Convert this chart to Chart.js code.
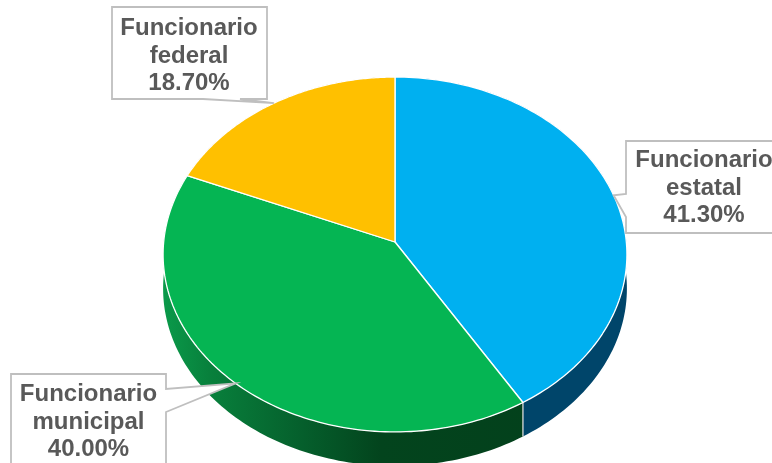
<!DOCTYPE html>
<html lang="es">
<head>
<meta charset="utf-8">
<title>Funcionarios</title>
<script src="https://cdn.jsdelivr.net/npm/chart.js@4"></script>
<style>
  html, body { margin: 0; padding: 0; background: #fff; overflow: hidden; }
  canvas { display: block; }
</style>
</head>
<body>
<canvas id="pie" width="772" height="463"></canvas>
<script>
const categories = ['Funcionario estatal', 'Funcionario municipal', 'Funcionario federal'];
const shares = [41.3, 40.0, 18.7];
const faceColors = ['#00b0f0', '#05b553', '#ffc000'];

// Tilted disc: horizontal and vertical stretch of the unit circle, perspective
// strength and the height of the side wall in pixels
const STRETCH_X = 1.402;
const STRETCH_Y = 1.07;
const PERSPECTIVE = 0.0704;
const WALL_DEPTH = 34;
const ARC_STEPS = 120;

// Where each callout box sits, one per category
const calloutBoxes = [
  { left: 626, top: 141, right: 790, bottom: 233, textX: 704, baseline: 167, side: 'left', gap: [194, 217] },
  { left: 11, top: 374, right: 166, bottom: 480, textX: 88.5, baseline: 401, side: 'right', gap: [389, 412] },
  { left: 112, top: 7, right: 267, bottom: 99, textX: 189, baseline: 35, side: 'bottom', gap: [203, 240] }
];

function project(arc, angle, drop = 0) {
  const ux = Math.cos(angle);
  const uy = Math.sin(angle);
  const w = 1 - PERSPECTIVE * uy;
  return {
    x: arc.x + arc.outerRadius * STRETCH_X * ux / w,
    y: arc.y + arc.outerRadius * STRETCH_Y * uy / w + drop
  };
}

function traceRim(ctx, arc, from, to, drop) {
  for (let i = 0; i <= ARC_STEPS; i++) {
    const p = project(arc, from + (to - from) * i / ARC_STEPS, drop);
    ctx.lineTo(p.x, p.y);
  }
}

function wallFill(ctx, index) {
  const g = ctx.createLinearGradient(163, 0, 627, 0);
  if (index === 1) {
    g.addColorStop(0, '#0a9a4a');
    g.addColorStop(0.1, '#08803c');
    g.addColorStop(0.3, '#055f2c');
    g.addColorStop(0.47, '#03441d');
    g.addColorStop(1, '#033f1b');
    return g;
  }
  return index === 0 ? '#00456a' : '#7f6000';
}

function drawWall(ctx, arc, index) {
  ctx.beginPath();
  traceRim(ctx, arc, arc.startAngle, arc.endAngle, 0);
  traceRim(ctx, arc, arc.endAngle, arc.startAngle, WALL_DEPTH);
  ctx.closePath();
  ctx.fillStyle = wallFill(ctx, index);
  ctx.fill();
}

function drawFace(ctx, arc, index) {
  ctx.beginPath();
  ctx.moveTo(arc.x, arc.y);
  traceRim(ctx, arc, arc.startAngle, arc.endAngle, 0);
  ctx.closePath();
  ctx.fillStyle = faceColors[index];
  ctx.fill();
  ctx.strokeStyle = '#ffffff';
  ctx.lineWidth = 1.3;
  ctx.lineJoin = 'round';
  ctx.stroke();
}

// Seam on the wall where the blue and green slices meet
function drawSeam(ctx, arc) {
  const top = project(arc, arc.endAngle, 0);
  const bottom = project(arc, arc.endAngle, WALL_DEPTH);
  ctx.beginPath();
  ctx.moveTo(top.x, top.y);
  ctx.lineTo(bottom.x, bottom.y);
  ctx.strokeStyle = '#d9d9d9';
  ctx.lineWidth = 1.3;
  ctx.stroke();
}

function drawCallout(ctx, box, tip) {
  ctx.beginPath();
  ctx.moveTo(box.left, box.top);
  ctx.lineTo(box.right, box.top);
  if (box.side === 'right') {
    ctx.lineTo(box.right, box.gap[0]);
    ctx.lineTo(tip.x, tip.y);
    ctx.lineTo(box.right, box.gap[1]);
  }
  ctx.lineTo(box.right, box.bottom);
  if (box.side === 'bottom') {
    ctx.lineTo(box.gap[1], box.bottom);
    ctx.lineTo(tip.x, tip.y);
    ctx.lineTo(box.gap[0], box.bottom);
  }
  ctx.lineTo(box.left, box.bottom);
  if (box.side === 'left') {
    ctx.lineTo(box.left, box.gap[1]);
    ctx.lineTo(tip.x, tip.y);
    ctx.lineTo(box.left, box.gap[0]);
  }
  ctx.closePath();
  ctx.fillStyle = '#ffffff';
  ctx.fill();
  ctx.strokeStyle = '#bfbfbf';
  ctx.lineWidth = 1.8;
  ctx.lineJoin = 'miter';
  ctx.stroke();
}

const tiltedPie = {
  id: 'tiltedPie',
  // The slices get projected here, so the flat default drawing is skipped
  beforeDatasetsDraw(chart) {
    const ctx = chart.ctx;
    const arcs = chart.getDatasetMeta(0).data;
    ctx.save();
    arcs.forEach((arc, i) => drawWall(ctx, arc, i));
    drawSeam(ctx, arcs[0]);
    arcs.forEach((arc, i) => drawFace(ctx, arc, i));
    ctx.restore();
    return false;
  },
  afterDraw(chart) {
    const ctx = chart.ctx;
    const arcs = chart.getDatasetMeta(0).data;
    ctx.save();
    ctx.font = 'bold 24px "Liberation Sans", Arial, sans-serif';
    ctx.textAlign = 'center';
    ctx.textBaseline = 'alphabetic';
    arcs.forEach((arc, i) => {
      const box = calloutBoxes[i];
      drawCallout(ctx, box, project(arc, (arc.startAngle + arc.endAngle) / 2));
      const lines = categories[i].split(' ').concat(shares[i].toFixed(2) + '%');
      ctx.fillStyle = '#595959';
      lines.forEach((line, n) => ctx.fillText(line, box.textX, box.baseline + n * 27.5));
    });
    ctx.restore();
  }
};

new Chart(document.getElementById('pie'), {
  type: 'pie',
  data: {
    labels: categories,
    datasets: [{ data: shares, backgroundColor: faceColors, borderWidth: 0, hoverBorderWidth: 0 }]
  },
  options: {
    responsive: false,
    animation: false,
    events: [],
    layout: { padding: { left: 163, right: 145, top: 77, bottom: 56 } },
    plugins: { legend: { display: false }, tooltip: { enabled: false } }
  },
  plugins: [tiltedPie]
});
</script>
</body>
</html>
